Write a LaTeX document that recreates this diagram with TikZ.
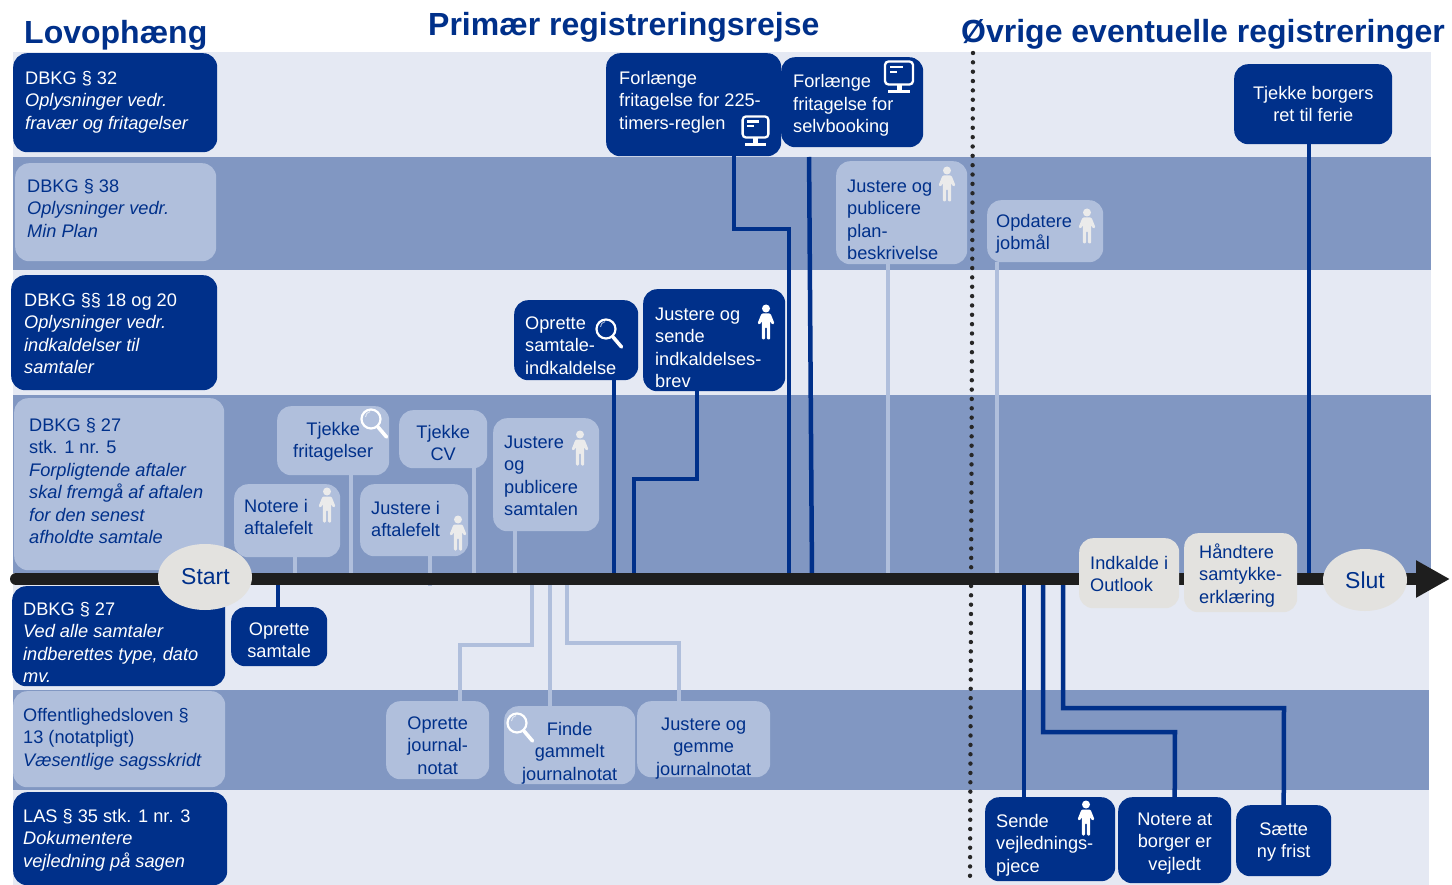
\documentclass[tikz,border=0pt]{standalone}
\usepackage{fontspec}
\setmainfont{Liberation Sans}
\usetikzlibrary{arrows.meta,shapes.geometric}
\definecolor{navy}{HTML}{00308A}
\definecolor{bandD}{HTML}{8197C2}
\definecolor{bandL}{HTML}{E5E9F3}
\definecolor{boxL}{HTML}{B0BFDC}
\definecolor{boxG}{HTML}{E3E2DF}
\definecolor{axisc}{HTML}{1E1E1E}
\definecolor{iconL}{HTML}{EBEBEB}
\tikzset{
  darkbox/.style={fill=navy,text=white,rounded corners=14pt,inner sep=0pt,anchor=north west},
  lightbox/.style={fill=boxL,text=navy,rounded corners=14pt,inner sep=0pt,anchor=north west},
  graybox/.style={fill=boxG,text=navy,rounded corners=14pt,inner sep=0pt,anchor=north west},
  titlenode/.style={anchor=base west,text=navy,inner sep=0pt,font=\fontsize{32}{36}\selectfont\bfseries},
  terminal/.style={ellipse,fill=boxG,text=navy,inner sep=0pt,font=\fontsize{23}{26}\selectfont},
  dconn/.style={draw=navy,line width=4.5pt},
  lconn/.style={draw=boxL,line width=4.5pt},
  pics/personicon/.style={code={
    \fill[#1] (0,-13.5) circle (4);
    \fill[#1,rounded corners=1.2pt] (-4.5,-8.5) -- (4.5,-8.5) -- (8.5,1.5) -- (6.3,2.8) -- (4.2,-1) -- (4.2,4) -- (4.2,17.5) -- (0.9,17.5) -- (0.9,5) -- (-0.9,5) -- (-0.9,17.5) -- (-4.2,17.5) -- (-4.2,-1) -- (-6.3,2.8) -- (-8.5,1.5) -- cycle;
  }},
  pics/magicon/.style={code={
    \draw[#1,line width=2.2pt] (0,0) circle (9.5);
    \draw[#1,line width=1pt,opacity=.6] (-5.5,-2) arc (180:260:5.5);
    \draw[#1,line width=3.6pt,line cap=round] (7,8) -- (15.5,18);
  }},
  pics/monitoricon/.style={code={
    \draw[white,line width=2.3pt,rounded corners=3.5pt] (-14,-11.5) rectangle (14,11.5);
    \draw[white,line width=2.2pt] (-9,-6) -- (4,-6) (-9,-1) -- (-2,-1);
    \fill[white] (-2.5,12) rectangle (2.5,17);
    \fill[white] (-11,17.5) rectangle (11,20.5);
  }},
}
% name, style, x1, y1, x2, y2, alignment, first baseline, text
\newcommand\bxcore[9]{%
  \node[#2] (#1) at (#3,#4) {\parbox[t][\dimexpr #6pt-#4pt\relax][t]{\dimexpr #5pt-#3pt\relax}{%
    \vspace*{\dimexpr #8pt-#4pt-16pt\relax}\fontsize{18.2}{22.5}\selectfont #7\rule{0pt}{16pt}#9}};}
\newcommand\lbx[8]{\bxcore{#1}{#2}{#3}{#4}{#5}{#6}{\raggedright\leftskip=\dimexpr #7pt-#3pt\relax}{#8}}
\begin{document}
\begin{tikzpicture}[x=1pt,y=-1pt]
\useasboundingbox (0,0) rectangle (1452,885);
% bands
\fill[bandL] (13,52) rectangle (1431,157);
\fill[bandD] (13,157) rectangle (1431,270);
\fill[bandL] (13,270) rectangle (1431,395);
\fill[bandD] (13,395) rectangle (1431,573);
\fill[bandL] (13,573) rectangle (1429,690);
\fill[bandD] (13,690) rectangle (1429,790);
\fill[bandL] (13,790) rectangle (1429,885);
% titles
\node[titlenode] (t1) at (24,44) {Lovophæng};
\node[titlenode] (t2) at (428,36) {Primær registreringsrejse};
\node[titlenode] (t3) at (961,43) {Øvrige eventuelle registreringer};
% dotted separator
\coordinate (sepT) at (973,53);
\coordinate (sepB) at (970,885);
\draw[black!85,line width=4.4pt,line cap=round,dash pattern=on 0pt off 9.35pt] (sepT) -- (sepB);
% axis ends
\coordinate (axL) at (16,579);
\coordinate (axR) at (1450,579);

% law boxes
\lbx{A1}{darkbox}{13}{53}{217}{152}{25}{84}{DBKG § 32\\\textit{Oplysninger vedr.}\\\textit{fravær og fritagelser}}
\lbx{A2}{lightbox}{15}{163}{216}{261}{27}{192}{DBKG § 38\\\textit{Oplysninger vedr.}\\\textit{Min Plan}}
\lbx{A3}{darkbox}{11}{275}{217}{390}{24}{306}{DBKG §§ 18 og 20\\\textit{Oplysninger vedr.}\\\textit{indkaldelser til}\\\textit{samtaler}}
\lbx{A4}{lightbox}{14}{398}{224}{570}{29}{431}{DBKG § 27\\stk. 1 nr. 5\\\textit{Forpligtende aftaler}\\\textit{skal fremgå af aftalen}\\\textit{for den senest}\\\textit{afholdte samtale}}
\lbx{A5}{darkbox}{12}{586}{225}{686}{23}{615}{DBKG § 27\\\textit{Ved alle samtaler}\\\textit{indberettes type, dato}\\\textit{mv.}}
\lbx{A6}{lightbox}{13}{691}{225}{787}{23}{721}{Offentlighedsloven §\\13 (notatpligt)\\\textit{Væsentlige sagsskridt}}
\lbx{A7}{darkbox}{13}{792}{227}{885}{23}{822}{LAS § 35 stk. 1 nr. 3\\\textit{Dokumentere}\\\textit{vejledning på sagen}}

% process boxes (drawn first so connectors can refer to them)
\lbx{pF1}{darkbox}{606}{53}{781}{156}{619}{84}{Forlænge\\fritagelse for 225-\\timers-reglen}
\lbx{pF2}{darkbox}{781}{57}{923}{147}{793}{87.5}{Forlænge\\fritagelse for\\selvbooking}
\lbx{pJP}{lightbox}{836}{161}{967}{264}{847}{192}{Justere og\\publicere\\plan-\\beskrivelse}
\lbx{pOJ}{lightbox}{987}{200}{1103}{262}{996}{227}{Opdatere\\jobmål}
\bxcore{pTF}{darkbox}{1234}{64}{1392}{144}{\centering}{99}{Tjekke borgers\\ret til ferie}
\lbx{pOS}{darkbox}{514}{300}{638}{380}{525}{329}{Oprette\\samtale-\\indkaldelse}
\lbx{pJS}{darkbox}{643}{289}{785}{391}{655}{320}{Justere og\\sende\\indkaldelses-\\brev}
\bxcore{pTG}{lightbox}{277}{406}{389}{475}{\centering}{435}{Tjekke\\fritagelser}
\bxcore{pTC}{lightbox}{399}{410}{487}{468}{\centering}{438}{Tjekke\\CV}
\lbx{pJU}{lightbox}{493}{418}{599}{531}{504}{448}{Justere\\og\\publicere\\samtalen}
\lbx{pNA}{lightbox}{234}{484}{340}{557}{244}{512}{Notere i\\aftalefelt}
\lbx{pJA}{lightbox}{360}{484}{468}{556}{371}{514}{Justere i\\aftalefelt}
\bxcore{pOT}{darkbox}{231}{607}{327}{666}{\centering}{635}{Oprette\\samtale}
\bxcore{pOJN}{lightbox}{386}{701}{489}{779}{\centering}{729}{Oprette\\journal-\\notat}
\bxcore{pFG}{lightbox}{504}{706}{635}{784}{\centering}{735}{Finde\\gammelt\\journalnotat}
\bxcore{pJG}{lightbox}{637}{701}{770}{777}{\centering}{730}{Justere og\\gemme\\journalnotat}
\lbx{pSV}{darkbox}{985}{797}{1115}{881}{996}{827}{Sende\\vejlednings-\\pjece}
\bxcore{pNB}{darkbox}{1118}{797}{1231}{883}{\centering}{825}{Notere at\\borger er\\vejledt}
\bxcore{pSF}{darkbox}{1236}{805}{1331}{876}{\centering}{835}{Sætte\\ny frist}

% connectors
\coordinate (c1a) at (734,229); \coordinate (c1b) at (789,229); \coordinate (c1c) at (789,579);
\draw[dconn] (c1a |- pF1.south) -- (c1a) -- (c1b) -- (c1c);
\coordinate (c2a) at (809,147); \coordinate (c2b) at (812,579);
\draw[dconn,shorten <=10pt] (c2a) -- (c2b);
\coordinate (c3a) at (614,579);
\draw[dconn] (c3a |- pOS.south) -- (c3a);
\coordinate (c4a) at (697,479); \coordinate (c4b) at (634,479); \coordinate (c4c) at (634,579);
\draw[dconn] (c4a |- pJS.south) -- (c4a) -- (c4b) -- (c4c);
\coordinate (c5) at (1309,579);
\draw[dconn] (c5 |- pTF.south) -- (c5);
\coordinate (c6) at (278,579);
\draw[dconn] (c6) -- (c6 |- pOT.north);
\coordinate (c7a) at (1024,579);
\draw[dconn] (c7a) -- (c7a |- pSV.north);
\coordinate (c8a) at (1043,579); \coordinate (c8b) at (1043,732); \coordinate (c8c) at (1175,732);
\draw[dconn] (c8a) -- (c8b) -- (c8c) -- (pNB.north);
\coordinate (c9a) at (1063,579); \coordinate (c9b) at (1063,708); \coordinate (c9c) at (1284,708);
\draw[dconn] (c9a) -- (c9b) -- (c9c) -- (pSF.north);

\coordinate (l1) at (888,579); \draw[lconn] (l1 |- pJP.south) -- (l1);
\coordinate (l2) at (997,579); \draw[lconn] (l2 |- pOJ.south) -- (l2);
\coordinate (l3) at (295,579); \draw[lconn] (l3 |- pNA.south) -- (l3);
\coordinate (l4) at (351,579); \draw[lconn] (l4 |- pTG.south) -- (l4);
\coordinate (l5) at (430,586); \draw[lconn] (l5 |- pJA.south) -- (l5);
\coordinate (l6) at (474,579); \draw[lconn] (l6 |- pTC.south) -- (l6);
\coordinate (l7) at (515,579); \draw[lconn] (l7 |- pJU.south) -- (l7);
\coordinate (l8a) at (532,579); \coordinate (l8b) at (532,645); \coordinate (l8c) at (460,645);
\draw[lconn] (l8a) -- (l8b) -- (l8c) -- (l8c |- pOJN.north);
\coordinate (l9) at (550,579); \draw[lconn] (l9) -- (l9 |- pFG.north);
\coordinate (l10a) at (567,579); \coordinate (l10b) at (567,643); \coordinate (l10c) at (679,643);
\draw[lconn] (l10a) -- (l10b) -- (l10c) -- (l10c |- pJG.north);

% axis
\draw[axisc,line width=12pt,line cap=round,-{Triangle[length=34pt,width=35pt]}] (axL) -- (axR);

% boxes on the axis
\node[terminal,minimum width=94pt,minimum height=66pt] (start) at (205,577) {\hspace{1pt}Start};
\node[terminal,minimum width=84pt,minimum height=62pt] (slut) at (1365,580) {Slut};
\lbx{pIO}{graybox}{1079}{538}{1179}{608}{1090}{569}{Indkalde i\\Outlook}
\lbx{pHS}{graybox}{1184}{533}{1297}{612}{1199}{558}{Håndtere\\samtykke-\\erklæring}

% icons
\pic at (899,73) {monitoricon};
\pic[scale=.92] at (755.5,127) {monitoricon};
\pic at (947,184) {personicon=iconL};
\pic at (1087,226) {personicon=iconL};
\pic at (766,322) {personicon=white};
\pic at (327,505) {personicon=iconL};
\pic at (458,533) {personicon=iconL};
\pic at (580,448) {personicon=iconL};
\pic at (1086,818) {personicon=white};
\pic at (371,419) {magicon=white};
\pic at (606,329) {magicon=white};
\pic at (517,723) {magicon=white};
\end{tikzpicture}
\end{document}
